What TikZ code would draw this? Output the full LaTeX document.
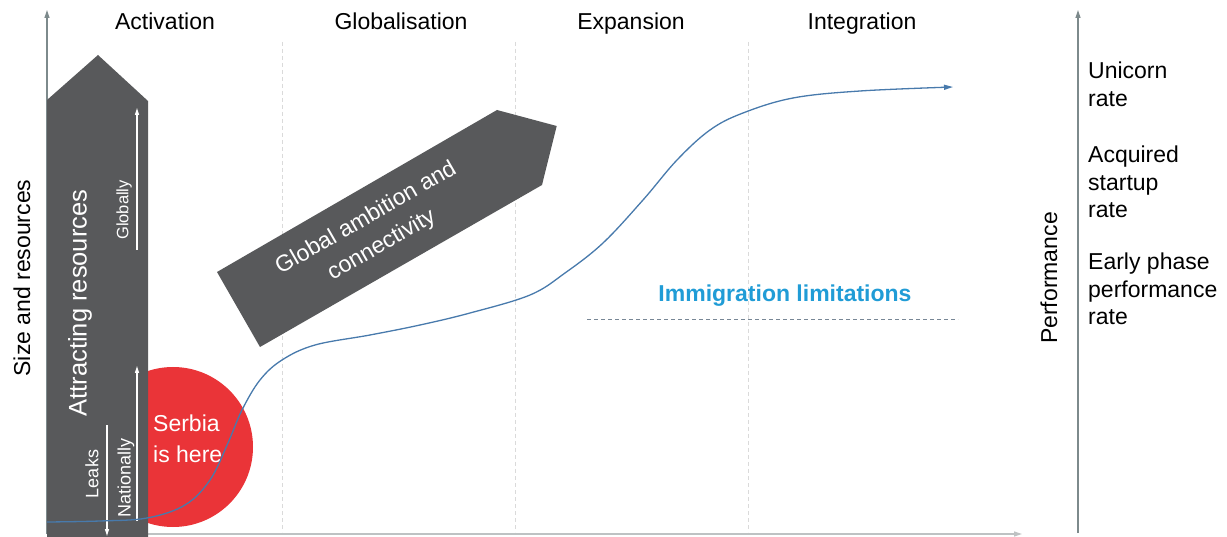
\documentclass[tikz,border=0pt]{standalone}
\usepackage{fontspec}
\setmainfont{Liberation Sans}
\usetikzlibrary{arrows.meta}

\definecolor{slate}{RGB}{88,89,91}
\definecolor{axisgray}{RGB}{125,138,140}
\definecolor{rulegray}{RGB}{218,218,218}
\definecolor{serbiared}{RGB}{234,52,56}
\definecolor{curveblue}{RGB}{72,122,172}
\definecolor{limitblue}{RGB}{32,156,214}
\definecolor{dashgray}{RGB}{120,135,150}

\begin{document}
\begin{tikzpicture}[x=1pt,y=-1pt,
  txt/.style={font=\fontsize{23}{27.5}\selectfont, inner sep=0pt, text=black},
  heading/.style={txt, anchor=base},
  whitetxt/.style={inner sep=0pt, text=white},
  axisline/.style={draw=axisgray, line width=1.2pt, -{Triangle[length=8pt,width=5pt]}},
  separator/.style={draw=rulegray, line width=0.9pt, dash pattern=on 4pt off 3pt},
  whitearrow/.style={draw=white, line width=1.1pt, -{Triangle[length=7pt,width=4pt]}},
  bigarrow/.style={fill=slate, draw=none}]
\useasboundingbox (0,0) rectangle (1227,537);

% phase separators
\foreach \sx/\nm in {282/s1, 515/s2, 748/s3} {
  \coordinate (\nm top) at (\sx,42);
  \coordinate (\nm bot) at (\sx,532);
  \draw[separator] (\nm top) -- (\nm bot);
}

% axes
\coordinate (origin) at (47,534);
\coordinate (ytop) at (47,10);
\coordinate (xend) at (1022,534);
\coordinate (pbot) at (1078,533);
\coordinate (ptop) at (1078,10);
\draw[axisline, draw=rulegray!70!axisgray] (origin) -- (xend);
\draw[axisline] (origin) -- (ytop);
\draw[axisline] (pbot) -- (ptop);

% phase headings
\node[heading] (act) at (165,30) {Activation};
\node[heading] (glob) at (401,30) {Globalisation};
\node[heading] (exp) at (631,30) {Expansion};
\node[heading] (integ) at (862,30) {Integration};

% current position marker
\fill[serbiared] (173,447) circle (80);
\node[whitetxt, font=\fontsize{23}{31}\selectfont, align=left, anchor=west] (serbia) at (153,439) {Serbia\\is here};

% resource arrow
\path[bigarrow] (47,537) -- (47,100) -- (98,55) -- (148,101) -- (148,537) -- cycle;
\node[whitetxt, font=\fontsize{25.5}{30}\selectfont, rotate=90] (attract) at (80,303) {Attracting resources};

\coordinate (gl0) at (137,250);
\coordinate (gl1) at (137,108);
\draw[whitearrow] (gl0) -- (gl1);
\node[whitetxt, font=\fontsize{16.5}{20}\selectfont, rotate=90] (globally) at (124,210) {Globally};

\coordinate (na0) at (137,521);
\coordinate (na1) at (137,366);
\draw[whitearrow] (na0) -- (na1);
\node[whitetxt, font=\fontsize{18}{22}\selectfont, rotate=90] (nationally) at (126,478) {Nationally};

\coordinate (lk0) at (107,425);
\coordinate (lk1) at (107,536);
\draw[whitearrow] (lk0) -- (lk1);
\node[whitetxt, font=\fontsize{18}{22}\selectfont, rotate=90] (leaks) at (92,474) {Leaks};

% global ambition arrow
\path[bigarrow] (217,272) -- (497,110) -- (556.7,126) -- (542,185) -- (260,347) -- cycle;
\node[whitetxt, font=\fontsize{23}{31}\selectfont, rotate=30, align=center] (ambition) at (374,232) {Global ambition and\\connectivity};

% immigration limit
\node[font=\bfseries\fontsize{23}{27}\selectfont, text=limitblue, inner sep=0pt] (immig) at (785,296) {Immigration limitations};
\coordinate (lim0) at (587,320);
\coordinate (lim1) at (958,320);
\draw[dashgray, line width=1pt, dash pattern=on 4pt off 3pt] (lim0) -- (lim1);

% axis labels
\node[txt, rotate=90] (size) at (22,278) {Size and resources};
\node[txt, rotate=90] (perf) at (1049,278) {Performance};
\node[txt, align=left, anchor=north west] (unicorn) at (1088,62) {Unicorn\\rate};
\node[txt, align=left, anchor=north west] (acquired) at (1088,146) {Acquired\\startup\\rate};
\node[txt, align=left, anchor=north west] (early) at (1088,253) {Early phase\\performance\\rate};

% growth curve
\coordinate (c0) at (47,522);
\coordinate (c1) at (953,87);
\draw[curveblue, line width=1.3pt, -{Triangle[length=9pt,width=5pt]}]
  plot[smooth, tension=0.6] coordinates {
    (47,522) (100,521) (147,518) (185,505) (210,480) (228,443) (242,410)
    (260,380) (282,360) (315,345) (370,335) (420,325) (470,313) (530,295)
    (565,273) (603,243) (643,200) (677,160) (710,130) (743,113) (793,98)
    (860,91) (953,87)};
\end{tikzpicture}
\end{document}
